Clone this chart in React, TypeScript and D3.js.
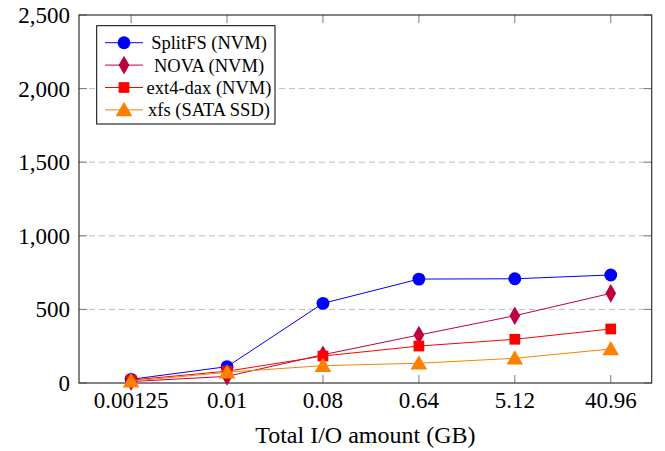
import { useEffect, useRef } from 'react';
import * as d3 from 'd3';

const sizes = ['0.00125', '0.01', '0.08', '0.64', '5.12', '40.96'];
const splitfs = [25, 111, 541, 706, 708, 734];
const nova = [10, 45, 192, 326, 457, 609];
const ext4dax = [20, 80, 183, 251, 297, 367];
const xfs = [12, 73, 118, 134, 168, 231];
const yTicks = [0, 500, 1000, 1500, 2000, 2500];

const series = [
  { label: 'SplitFS (NVM)', values: splitfs, color: '#0000ff', marker: 'circle' },
  { label: 'NOVA (NVM)', values: nova, color: '#bf0040', marker: 'diamond' },
  { label: 'ext4-dax (NVM)', values: ext4dax, color: '#ff0000', marker: 'square' },
  { label: 'xfs (SATA SSD)', values: xfs, color: '#ff8000', marker: 'triangle' },
];

const font = '"Liberation Serif", "Times New Roman", serif';

export default function App() {
  const ref = useRef<SVGSVGElement>(null);

  useEffect(() => {
    const svg = d3.select(ref.current);
    svg.selectAll('*').remove();

    const left = 79;
    const right = 651.7;
    const top = 15;
    const bottom = 383;

    const x = d3.scalePoint().domain(sizes).range([left, right]).padding(0.485).align(0.56);
    const y = d3.scaleLinear().domain([0, 2500]).range([bottom, top]);

    // dashed grid
    svg
      .append('g')
      .selectAll('line')
      .data(yTicks.filter(t => t > 0 && t < 2500))
      .enter()
      .append('line')
      .attr('x1', left)
      .attr('x2', right)
      .attr('y1', d => y(d))
      .attr('y2', d => y(d))
      .attr('stroke', '#bdbdbd')
      .attr('stroke-width', 1)
      .attr('stroke-dasharray', '6,4');

    const tickLen = 8;
    const ticks = svg.append('g').attr('stroke', '#7a7a7a').attr('stroke-width', 1);
    sizes.forEach(s => {
      ticks.append('line').attr('x1', x(s)).attr('x2', x(s)).attr('y1', bottom).attr('y2', bottom - tickLen);
      ticks.append('line').attr('x1', x(s)).attr('x2', x(s)).attr('y1', top).attr('y2', top + tickLen);
    });
    yTicks.forEach(t => {
      ticks.append('line').attr('x1', left).attr('x2', left + tickLen).attr('y1', y(t)).attr('y2', y(t));
      ticks.append('line').attr('x1', right).attr('x2', right - tickLen).attr('y1', y(t)).attr('y2', y(t));
    });

    // frame
    svg
      .append('rect')
      .attr('x', left)
      .attr('y', top)
      .attr('width', right - left)
      .attr('height', bottom - top)
      .attr('fill', 'none')
      .attr('stroke', '#333')
      .attr('stroke-width', 1.2);

    // tick labels
    svg
      .append('g')
      .selectAll('text')
      .data(yTicks)
      .enter()
      .append('text')
      .attr('x', left - 9)
      .attr('y', d => y(d) + 8)
      .attr('text-anchor', 'end')
      .style('font-family', font)
      .style('font-size', '23px')
      .text(d => d3.format(',')(d));

    svg
      .append('g')
      .selectAll('text')
      .data(sizes)
      .enter()
      .append('text')
      .attr('x', d => x(d))
      .attr('y', 408)
      .attr('text-anchor', 'middle')
      .style('font-family', font)
      .style('font-size', '23px')
      .text(d => d);

    svg
      .append('text')
      .attr('x', (left + right) / 2)
      .attr('y', 443)
      .attr('text-anchor', 'middle')
      .style('font-family', font)
      .style('font-size', '24px')
      .text('Total I/O amount (GB)');

    const symbolFor = (m: string) =>
      m === 'circle'
        ? d3.symbol().type(d3.symbolCircle).size(130)
        : m === 'diamond'
        ? d3.symbol().type(d3.symbolDiamond).size(100)
        : m === 'square'
        ? d3.symbol().type(d3.symbolSquare).size(115)
        : d3.symbol().type(d3.symbolTriangle).size(120);

    const line = d3
      .line<number>()
      .x((d, i) => x(sizes[i]))
      .y(d => y(d));

    series.forEach(s => {
      const g = svg.append('g');
      g.append('path')
        .attr('d', line(s.values))
        .attr('fill', 'none')
        .attr('stroke', s.color)
        .attr('stroke-width', 1);
      g.selectAll('path.m')
        .data(s.values)
        .enter()
        .append('path')
        .attr('class', 'm')
        .attr('d', symbolFor(s.marker))
        .attr('fill', s.color)
        .attr('transform', (d, i) => `translate(${x(sizes[i])},${y(d) + (s.marker === 'triangle' ? 1.5 : 0)})`);
    });

    // legend
    const legend = svg.append('g');
    legend
      .append('rect')
      .attr('x', 96.7)
      .attr('y', 25.7)
      .attr('width', 178.3)
      .attr('height', 98.3)
      .attr('fill', 'white')
      .attr('stroke', 'black')
      .attr('stroke-width', 1);

    const legendItem = legend
      .selectAll('g')
      .data(series)
      .enter()
      .append('g')
      .attr('transform', (d, i) => `translate(0, ${42.7 + i * 22.4})`);

    legendItem
      .append('line')
      .attr('x1', 105)
      .attr('x2', 143)
      .attr('stroke', d => d.color)
      .attr('stroke-width', 1);
    legendItem
      .append('path')
      .attr('d', d => symbolFor(d.marker)())
      .attr('fill', d => d.color)
      .attr('transform', d => `translate(124, ${d.marker === 'triangle' ? 1.5 : 0})`);
    legendItem
      .append('text')
      .attr('x', 209)
      .attr('y', 6.5)
      .attr('text-anchor', 'middle')
      .style('font-family', font)
      .style('font-size', '18.5px')
      .text(d => d.label);
  }, []);

  return (
    <svg
      ref={ref}
      width={665}
      height={451}
      style={{ position: 'absolute', left: 0, top: 0, background: 'white' }}
    />
  );
}
